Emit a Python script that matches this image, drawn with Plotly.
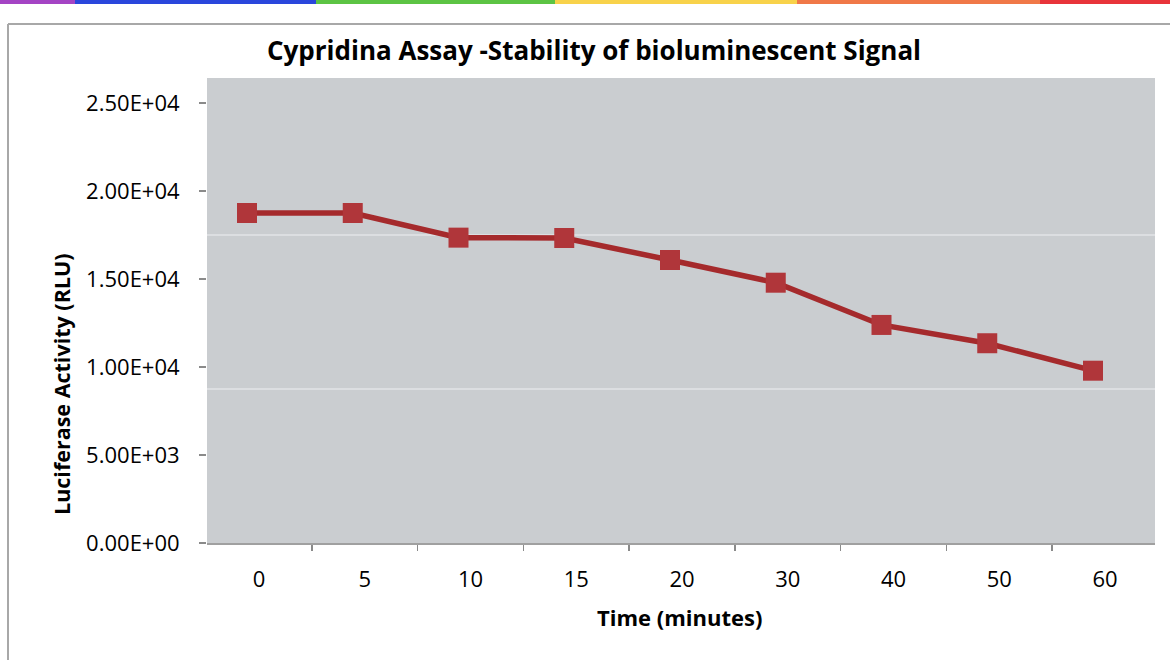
import plotly.graph_objects as go

# ---- data ----
time_labels = ["0", "5", "10", "15", "20", "30", "40", "50", "60"]
rlu = [18750, 18750, 17350, 17330, 16080, 14790, 12390, 11350, 9790]
y_ticks = [0, 5000, 10000, 15000, 20000, 25000]
y_tick_text = ["0.00E+00", "5.00E+03", "1.00E+04", "1.50E+04", "2.00E+04", "2.50E+04"]
faint_lines = [17500, 8750]

title_text = "Cypridina Assay -Stability of bioluminescent Signal"
x_title = "Time (minutes)"
y_title = "Luciferase Activity (RLU)"

W, H = 1170, 660
L, R, T, B = 207, 15, 78, 117
PW, PH = W - L - R, H - T - B

def px_x(px):
    return (px - L) / PW

def px_y(py):
    return (H - B - py) / PH

idx = list(range(len(time_labels)))

fig = go.Figure()
fig.add_trace(go.Scatter(
    x=idx, y=rlu, mode="lines+markers",
    line=dict(color="#a52a2c", width=5.5),
    marker=dict(symbol="square", size=20, color="#b0363a"),
    xaxis="x", yaxis="y", showlegend=False, hoverinfo="skip",
))
# carrier trace so the category (label) axis is drawn; draws nothing
fig.add_trace(go.Scatter(
    x=idx, y=rlu, mode="none", xaxis="x2", yaxis="y",
    showlegend=False, hoverinfo="skip",
))

font = "'Open Sans', sans-serif"

shapes = []
for v in faint_lines:
    shapes.append(dict(type="line", xref="paper", yref="y", x0=0, x1=1, y0=v, y1=v,
                       line=dict(color="#eef0f2", width=1.2), layer="below"))
# rainbow strip at top
stripe = [(0, 75, "#a444c4"), (75, 316, "#2a46dc"), (316, 555, "#5cc444"),
          (555, 797, "#f8d24a"), (797, 1040, "#f07848"), (1040, 1170, "#e8343a")]
for a, b, c in stripe:
    shapes.append(dict(type="rect", xref="paper", yref="paper",
                       x0=px_x(a), x1=px_x(b), y0=px_y(4), y1=px_y(0),
                       fillcolor=c, line=dict(width=0), layer="above"))
# frame
shapes.append(dict(type="line", xref="paper", yref="paper", x0=px_x(8), x1=px_x(1172),
                   y0=px_y(24), y1=px_y(24), line=dict(color="#a8a8a8", width=2)))
shapes.append(dict(type="line", xref="paper", yref="paper", x0=px_x(8), x1=px_x(8),
                   y0=px_y(24), y1=px_y(662), line=dict(color="#a8a8a8", width=2)))

fig.update_layout(
    width=W, height=H,
    margin=dict(l=L, r=R, t=T, b=B, autoexpand=False),
    paper_bgcolor="white", plot_bgcolor="#cacdd0",
    font=dict(family=font, color="black"),
    title=dict(text="<b>" + title_text + "</b>", x=594 / W, xanchor="center",
               y=1 - 51 / H, yanchor="middle", font=dict(size=26, family=font, color="black")),
    xaxis=dict(type="linear", range=[-(247 - L) / 105.75, 8 + (L + PW - 1093) / 105.75],
               visible=False, fixedrange=True),
    xaxis2=dict(type="linear", overlaying="x", anchor="y", side="bottom",
                range=[-(259 - L) / 105.75, 8 + (L + PW - 1105) / 105.75],
                tickmode="array", tickvals=idx, ticktext=time_labels,
                ticks="", showgrid=False, zeroline=False,
                showline=True, linecolor="#a0a0a0", linewidth=1.5,
                tickfont=dict(size=22, family=font, color="black"),
                ticklabelstandoff=16, fixedrange=True,
                minor=dict(tickmode="array", tickvals=[i - 0.5 for i in range(len(time_labels) + 1)],
                           ticks="outside", ticklen=6, tickcolor="#8a8a8a", tickwidth=1.5,
                           showgrid=False)),
    yaxis=dict(range=[0, (H - B - T) / 88 * 5000], tickmode="array", tickvals=y_ticks,
               ticktext=y_tick_text, ticks="outside", ticklen=7, tickcolor="#8a8a8a",
               tickwidth=1.5, showgrid=False, zeroline=False, showline=False,
               tickfont=dict(size=22, family=font, color="black"), ticklabelstandoff=15,
               fixedrange=True),
    shapes=shapes,
    annotations=[
        dict(text="<b>" + y_title + "</b>", xref="paper", yref="paper",
             x=px_x(61), y=px_y(384), textangle=-90, showarrow=False,
             xanchor="center", yanchor="middle", font=dict(size=21.5, family=font, color="black")),
        dict(text="<b>" + x_title + "</b>", xref="paper", yref="paper",
             x=px_x(679), y=px_y(617), showarrow=False,
             xanchor="center", yanchor="middle", font=dict(size=22, family=font, color="black")),
    ],
)

fig.write_html("out.html", config={"displayModeBar": False, "staticPlot": True},
               post_script="document.body.style.margin='0';document.body.style.overflow='hidden';")
